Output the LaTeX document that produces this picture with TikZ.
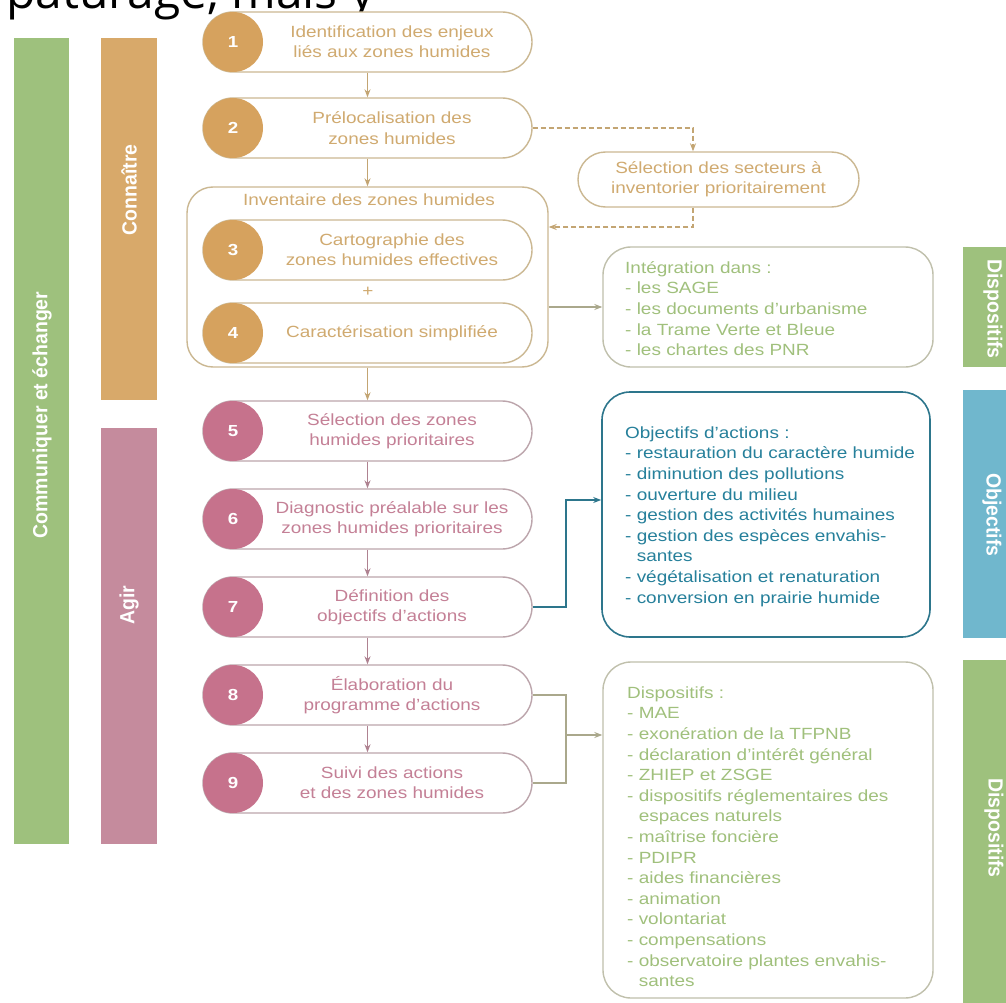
\documentclass[tikz,border=0pt]{standalone}
\usepackage{fontspec}
\setmainfont{Liberation Sans}[FakeStretch=1.17]
\newfontfamily\barfont{Liberation Sans}[FakeStretch=0.95]
\newfontfamily\topfont{Open Sans}
\usetikzlibrary{shapes.misc,arrows.meta}
\definecolor{gbar}{RGB}{158,193,125}
\definecolor{obar}{RGB}{216,169,106}
\definecolor{pbar}{RGB}{197,139,157}
\definecolor{bbar}{RGB}{112,183,205}
\definecolor{ocirc}{RGB}{214,162,94}
\definecolor{pcirc}{RGB}{198,114,140}
\definecolor{otext}{RGB}{208,170,112}
\definecolor{oline}{RGB}{203,184,146}
\definecolor{ptext}{RGB}{196,128,150}
\definecolor{pline}{RGB}{188,165,172}
\definecolor{gtext}{RGB}{160,192,124}
\definecolor{gline}{RGB}{192,192,172}
\definecolor{tealt}{RGB}{38,128,155}
\definecolor{teall}{RGB}{45,118,140}
\definecolor{oarr}{RGB}{195,165,115}
\definecolor{parr}{RGB}{175,130,145}
\definecolor{garr}{RGB}{170,168,140}
\tikzset{
 pill/.style={rounded rectangle, draw, line width=1.4pt, fill=white, minimum width=329pt, minimum height=60pt, inner sep=0pt},
 numc/.style={circle, minimum size=60pt, inner sep=0pt, text=white, font=\bfseries\fontsize{16}{18}\selectfont},
 btext/.style={align=center, inner sep=0pt, font=\fontsize{16.2}{20.4}\selectfont},
 ltext/.style={align=left, anchor=north west, inner sep=0pt, font=\fontsize{16.2}{20.6}\selectfont},
 panel/.style={draw, rounded corners=28pt, line width=1.4pt, fill=white, inner sep=0pt},
 barbox/.style={rectangle, inner sep=0pt, draw=none},
 barlabel/.style={text=white, inner sep=0pt, font=\barfont\bfseries\fontsize{20.5}{22}\selectfont},
 arr/.style={-{Stealth[length=8pt,width=6pt]}, line width=1.1pt},
 dsh/.style={dash pattern=on 5pt off 3pt, line width=1.1pt, draw=oarr},
}
\begin{document}
\begin{tikzpicture}[x=1pt,y=-1pt]
\useasboundingbox (0,0) rectangle (1006,1003);
\fill[white] (0,0) rectangle (1006,1003);

% clipped heading line at the top
\begin{scope}
\clip (0,0) rectangle (420,24);
\node[anchor=base west, inner sep=0pt, font=\topfont\fontsize{48}{50}\selectfont] (toptxt) at (6,9) {pâturage, mais y};
\end{scope}

% left bars
\node[barbox, fill=gbar, minimum width=55pt, minimum height=806pt] (commbar) at (41.5,441) {};
\node[barlabel, rotate=90] (commlbl) at (42,415) {Communiquer et échanger};
\node[barbox, fill=obar, minimum width=56pt, minimum height=362pt] (connbar) at (129,219) {};
\node[barlabel, rotate=90] (connlbl) at (129,190) {Connaître};
\node[barbox, fill=pbar, minimum width=56pt, minimum height=416pt] (agirbar) at (129,636) {};
\node[barlabel, rotate=90] (agirlbl) at (129,605) {Agir};

% right bars
\node[barbox, fill=gbar, minimum width=43pt, minimum height=120pt] (d1bar) at (984.5,307) {};
\node[barlabel, rotate=-90] (d1lbl) at (993,309) {Dispositifs};
\node[barbox, fill=bbar, minimum width=43pt, minimum height=248pt] (objbar) at (984.5,514) {};
\node[barlabel, rotate=-90] (objlbl) at (992,515) {Objectifs};
\node[barbox, fill=gbar, minimum width=43pt, minimum height=343pt] (d2bar) at (984.5,831.5) {};
\node[barlabel, rotate=-90] (d2lbl) at (994,828) {Dispositifs};

% Inventaire frame
\node[panel, draw=oline, rounded corners=26pt, minimum width=361pt, minimum height=180pt] (inv) at (367.5,277) {};
\node[btext, text=otext] (invt) at (369,200) {Inventaire des zones humides};

% pills
\foreach \n/\y/\lc in {1/42/oline,2/128/oline,3/250/oline,4/333/oline,5/431/pline,6/519/pline,7/607/pline,8/695/pline,9/783/pline}{
  \node[pill, draw=\lc] (b\n) at (367.5,\y) {};
}
\foreach \n/\y/\fc in {1/42/ocirc,2/128/ocirc,3/250/ocirc,4/333/ocirc,5/431/pcirc,6/519/pcirc,7/607/pcirc,8/695/pcirc,9/783/pcirc}{
  \node[numc, fill=\fc] (c\n) at (233,\y) {\n};
}
\node[btext, text=otext] (t1) at (392,42) {Identification des enjeux\\liés aux zones humides};
\node[btext, text=otext] (t2) at (392,128) {Prélocalisation des\\zones humides};
\node[btext, text=otext] (t3) at (392,250) {Cartographie des\\zones humides effectives};
\node[btext, text=otext] (plus) at (368,292) {+};
\node[btext, text=otext] (t4) at (392,333) {Caractérisation simplifiée};
\node[btext, text=ptext] (t5) at (392,431) {Sélection des zones\\humides prioritaires};
\node[btext, text=ptext] (t6) at (392,519) {Diagnostic préalable sur les\\zones humides prioritaires};
\node[btext, text=ptext] (t7) at (392,607) {Définition des\\objectifs d'actions};
\node[btext, text=ptext] (t8) at (392,695) {Élaboration du\\programme d'actions};
\node[btext, text=ptext] (t9) at (392,783) {Suivi des actions\\et des zones humides};

% selection box
\node[rounded rectangle, draw=oline, line width=1.4pt, fill=white, minimum width=281pt, minimum height=55pt, inner sep=0pt, btext, text=otext] (sel) at (718.5,179.5) {Sélection des secteurs à\\inventorier prioritairement};

% right panels
\node[panel, draw=gline, minimum width=330pt, minimum height=120pt] (integ) at (768,307) {};
\node[ltext, text=gtext] (integt) at (625,258.6) {\strut Intégration dans :\\- les SAGE\\- les documents d'urbanisme\\- la Trame Verte et Bleue\\- les chartes des PNR};
\node[panel, draw=teall, line width=1.6pt, minimum width=328pt, minimum height=245pt] (obj) at (766,514.5) {};
\node[ltext, text=tealt] (objt) at (625,423.6) {\strut Objectifs d'actions :\\- restauration du caractère humide\\- diminution des pollutions\\- ouverture du milieu\\- gestion des activités humaines\\- gestion des espèces envahis-\\\phantom{- }santes\\- végétalisation et renaturation\\- conversion en prairie humide};
\node[panel, draw=gline, minimum width=330pt, minimum height=336pt] (disp) at (768,830) {};
\node[ltext, text=gtext] (dispt) at (627,683.6) {\strut Dispositifs :\\- MAE\\- exonération de la TFPNB\\- déclaration d'intérêt général\\- ZHIEP et ZSGE\\- dispositifs réglementaires des\\\phantom{- }espaces naturels\\- maîtrise foncière\\- PDIPR\\- aides financières\\- animation\\- volontariat\\- compensations\\- observatoire plantes envahis-\\\phantom{- }santes};

% connectors
\draw[arr, draw=oarr] (b1) -- (b2);
\draw[arr, draw=oarr] (b2) -- (inv);
\draw[arr, draw=oarr] (inv) -- (b5);
\draw[arr, draw=parr] (b5) -- (b6);
\draw[arr, draw=parr] (b6) -- (b7);
\draw[arr, draw=parr] (b7) -- (b8);
\draw[arr, draw=parr] (b8) -- (b9);

\coordinate (d1) at (693,128);
\coordinate (d2) at (693,227);
\draw[dsh, -{Stealth[length=8pt,width=6pt]}] (b2.east) -- (d1) -- (sel.north -| d1);
\draw[dsh, -{Stealth[length=8pt,width=6pt]}] (sel.south -| d2) -- (d2) -- (d2 -| inv.east);

\draw[arr, draw=garr] (inv.east |- integ.west) -- (integ.west);

\coordinate (tk) at (566,500);
\draw[arr, draw=teall] (b7.east) -| (tk) -- (tk -| obj.west);

\coordinate (bk) at (566,735);
\draw[line width=1.1pt, draw=garr] (b8.east) -| (bk) |- (b9.east);
\draw[arr, draw=garr] (bk) -- (bk -| disp.west);
\end{tikzpicture}
\end{document}
